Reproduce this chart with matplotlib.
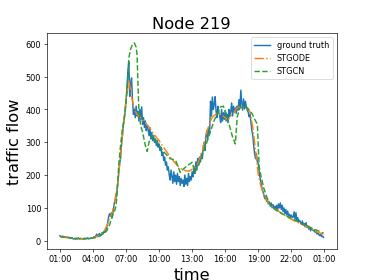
import matplotlib
matplotlib.use("Agg")
import matplotlib.pyplot as plt
import numpy as np

# ground truth, one value every 5 minutes from 01:00 (12 per hour)
truth = [
    15, 13, 12, 14, 11, 10, 12, 9, 11, 10, 8, 9,            # 01
    7, 8, 6, 5, 7, 4, 6, 5, 8, 6, 5, 7,                     # 02
    5, 6, 4, 7, 5, 6, 8, 5, 7, 6, 9, 7,                     # 03
    8, 12, 9, 14, 20, 12, 17, 22, 15, 19, 25, 21,           # 04
    28, 25, 33, 40, 55, 72, 82, 75, 85, 70, 92, 110,        # 05
    125, 130, 150, 175, 205, 235, 250, 290, 320, 350, 370, 395,  # 06
    425, 470, 515, 546, 440, 480, 496, 430, 385, 400, 375, 410,  # 07
    380, 395, 365, 400, 370, 408, 355, 375, 345, 365, 335, 350,  # 08
    340, 320, 345, 310, 330, 305, 320, 300, 310, 290, 305, 285,  # 09
    295, 275, 285, 260, 270, 245, 255, 230, 240, 215, 225, 200,  # 10
    185, 215, 195, 175, 210, 180, 200, 172, 205, 180, 195, 168,  # 11
    190, 175, 185, 165, 200, 172, 190, 168, 205, 180, 195, 185,  # 12
    210, 195, 225, 205, 240, 215, 250, 230, 255, 240, 265, 250,  # 13
    285, 300, 275, 320, 335, 310, 345, 330, 425, 380, 438, 400,  # 14
    415, 439, 395, 375, 410, 390, 380, 360, 400, 365, 390, 370,  # 15
    395, 365, 385, 360, 400, 378, 395, 420, 380, 410, 392, 405,  # 16
    388, 410, 398, 430, 405, 459, 420, 398, 432, 402, 425, 408,  # 17
    398, 392, 378, 385, 360, 336, 320, 290, 265, 250, 265, 240,  # 18
    235, 210, 190, 175, 160, 150, 140, 128, 135, 120, 125, 112,  # 19
    118, 105, 115, 100, 110, 98, 105, 95, 108, 92, 112, 100,     # 20
    115, 95, 108, 88, 100, 82, 95, 78, 90, 75, 80, 72,           # 21
    78, 70, 72, 88, 65, 85, 62, 70, 58, 62, 55, 50,              # 22
    60, 48, 52, 42, 55, 40, 45, 35, 42, 30, 38, 33,              # 23
    30, 32, 25, 28, 20, 24, 18, 15, 20, 12, 14, 10,              # 00
]

# STGODE, one value every 15 minutes (+ last point)
stgode = [
    13, 11, 10, 9,   8, 7, 6, 6,   6, 6, 7, 7,   9, 12, 15, 19,
    28, 45, 65, 85,   125, 175, 260, 350,   430, 490, 440, 400,
    385, 378, 368, 360,   350, 338, 326, 315,   305, 292, 280, 268,
    255, 245, 235, 226,   219, 215, 213, 212,   218, 222, 235, 255,
    285, 320, 350, 372,   382, 386, 385, 382,   375, 368, 380, 388,
    402, 408, 408, 405,   405, 392, 345, 275,   200, 165, 140, 125,
    112, 104, 97, 92,   86, 80, 75, 70,   65, 61, 57, 53,
    49, 45, 41, 37,   31, 27, 24, 21,   20,
]
stgode_t = list(range(0, 288, 3)) + [287]

# STGCN, read at irregular points
stgcn_t = [0, 6, 12, 18, 24, 30, 36, 42, 48, 51, 54, 57, 60, 61, 62, 63, 64, 66, 68, 70,
           72, 74, 75, 77, 79, 81, 83, 84, 85, 86, 88, 90, 93, 95, 97, 100, 104, 108, 114, 120,
           126, 131, 135, 139, 144, 147, 153, 160, 168, 175, 178, 181, 184, 188, 191, 193, 196, 200, 204, 209,
           213, 215, 216, 217, 219, 222, 225, 228, 234, 240, 246, 252, 264, 276, 287]
stgcn = [12, 10, 9, 7, 6, 7, 8, 12, 22, 30, 48, 75, 95, 105, 135, 180, 230, 290, 340, 373,
         420, 495, 557, 585, 598, 603, 590, 567, 475, 393, 350, 331, 290, 272, 300, 320, 305, 290, 268, 250,
         245, 208, 220, 229, 239, 208, 244, 300, 367, 408, 410, 388, 357, 316, 295, 377, 405, 408, 405, 388,
         365, 355, 285, 225, 195, 160, 135, 115, 95, 85, 76, 68, 50, 36, 23]

tick_pos = list(range(0, 289, 36))
tick_labels = ["01:00", "04:00", "07:00", "10:00", "13:00", "16:00", "19:00", "22:00", "01:00"]

fig = plt.figure(figsize=(6.4, 4.8))
plt.plot(np.arange(len(truth)), truth, label="ground truth", color="C0", linewidth=1.8)
plt.plot(stgode_t, stgode, "-.", label="STGODE", color="C1", linewidth=1.8)
plt.plot(stgcn_t, stgcn, "--", label="STGCN", color="C2", linewidth=1.8)

plt.xticks(tick_pos, tick_labels)
plt.xlabel("time", fontsize=20)
plt.ylabel("traffic flow", fontsize=20)
plt.title("Node 219", fontsize=20)
plt.legend(loc="upper right")

plt.savefig("out.png", dpi=58.45)
